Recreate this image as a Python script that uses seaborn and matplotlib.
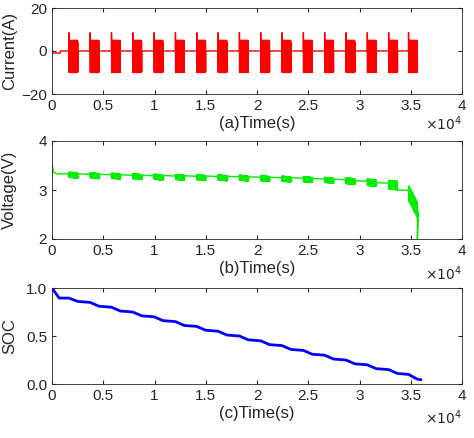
import numpy as np
import pandas as pd
import matplotlib
matplotlib.use("Agg")
import matplotlib.pyplot as plt
import seaborn as sns

# burst start times (s) and burst length
burst_starts = [1650, 3720, 5800, 7880, 9960, 12040, 14120, 16200, 18280, 20360,
                22440, 24520, 26600, 28680, 30760, 32840, 34780]
burst_len = 1150
burst_spike = 8.5
# one pulse cycle of current values (A), repeated within a burst
pulse_pattern = [4.5, -10, 4.5, -9, 5, -10, 3.5, -8, 4.8, -10, 4, -9.5, 5, -7, 4.5,
                 -10, 3, -9, 4.6, -10, 5, -8.5, 4.2, -9.8]
pulse_dt = 12.0
# rest voltage before each burst (V) and burst swing (V)
rest_voltage = [3.33, 3.32, 3.31, 3.30, 3.29, 3.285, 3.28, 3.275, 3.27, 3.26,
                3.25, 3.24, 3.225, 3.21, 3.18, 3.14, 2.99]
swing_voltage = [0.07, 0.07, 0.07, 0.07, 0.07, 0.07, 0.07, 0.07, 0.07, 0.07,
                 0.07, 0.07, 0.07, 0.08, 0.09, 0.12, 0.2]
# SOC at start/end of each burst
soc_start = [0.895, 0.85, 0.80, 0.75, 0.70, 0.65, 0.60, 0.55, 0.50, 0.45,
             0.40, 0.35, 0.30, 0.25, 0.20, 0.15, 0.10]
soc_end = [0.86, 0.81, 0.76, 0.71, 0.66, 0.61, 0.56, 0.51, 0.46, 0.41,
           0.36, 0.31, 0.26, 0.21, 0.16, 0.11, 0.05]
soc_end_value = 0.045
end_time = 36000

t_cur, i_cur = [0, 80, 80, 800, 800], [0, 0, -1, -1, 0]
t_v, v_v = [0, 150, 500], [3.55, 3.36, 3.33]
t_s, s_s = [0, 700], [1.0, 0.895]
n_rep = int(burst_len / (len(pulse_pattern) * pulse_dt))
for k, b in enumerate(burst_starts):
    t_cur += [b, b + 4]; i_cur += [0, burst_spike]
    t_v.append(b); v_v.append(rest_voltage[k])
    t = b
    pat = pulse_pattern * n_rep
    last = k == len(burst_starts) - 1
    for j, val in enumerate(pat):
        t += pulse_dt
        t_cur.append(t); i_cur.append(val)
        frac = j / len(pat)
        base = rest_voltage[k] - (0.35 * frac if last else 0.02 * frac)
        t_v.append(t); v_v.append(base + swing_voltage[k] * val / 10)
    t_cur.append(t); i_cur.append(0)
    t_s += [b, t]; s_s += [soc_start[k], soc_end[k]]
    if last:
        t_v += [t, t + 5, t + 120]; v_v += [2.6, 2.0, 2.55]
    else:
        t_v.append(t + 50); v_v.append(rest_voltage[k + 1] + 0.01)
t_s.append(end_time); s_s.append(soc_end_value)

df_i = pd.DataFrame({"t": t_cur, "v": i_cur})
df_v = pd.DataFrame({"t": t_v, "v": v_v})
df_s = pd.DataFrame({"t": t_s, "v": s_s})

sns.set_style("ticks")
plt.rcParams["font.family"] = ["Liberation Sans", "DejaVu Sans"]
plt.rcParams["xtick.direction"] = "in"
plt.rcParams["ytick.direction"] = "in"

fig = plt.figure(figsize=(4.74, 4.38), dpi=100)
W, H = 474, 438
specs = [(8, 94), (141, 239), (288, 384)]
axes = [fig.add_axes([52 / W, 1 - b / H, 410 / W, (b - t) / H]) for t, b in specs]

cfg = [(df_i, "red", "Current(A)", "(a)Time(s)", (-20, 20), [-20, 0, 20]),
       (df_v, "#00ee00", "Voltage(V)", "(b)Time(s)", (2, 4), [2, 3, 4]),
       (df_s, "blue", "SOC", "(c)Time(s)", (0, 1), [0, 0.5, 1])]
for ax, (d, c, yl, xl, ylim, yt) in zip(axes, cfg):
    sns.lineplot(data=d, x="t", y="v", ax=ax, color=c, lw=1.0 if c != "blue" else 2,
                 estimator=None, sort=False)
    ax.set_xlim(0, 40000); ax.set_ylim(*ylim)
    ax.set_yticks(yt)
    ax.set_xticks(np.arange(0, 40001, 5000))
    ax.set_xticklabels(["0", "0.5", "1", "1.5", "2", "2.5", "3", "3.5", "4"])
    ax.set_ylabel(yl, fontsize=12)
    ax.set_xlabel(xl, fontsize=12, labelpad=2)
    ax.tick_params(labelsize=11, top=True, right=True, length=3)
    ax.text(1.0, -0.42, r"$\times10^4$", transform=ax.transAxes, ha="right", fontsize=10)
    for s in ax.spines.values():
        s.set_linewidth(0.6)
    ax.yaxis.set_label_coords(-0.085, 0.5)

fig.savefig("out.png", dpi=100)
